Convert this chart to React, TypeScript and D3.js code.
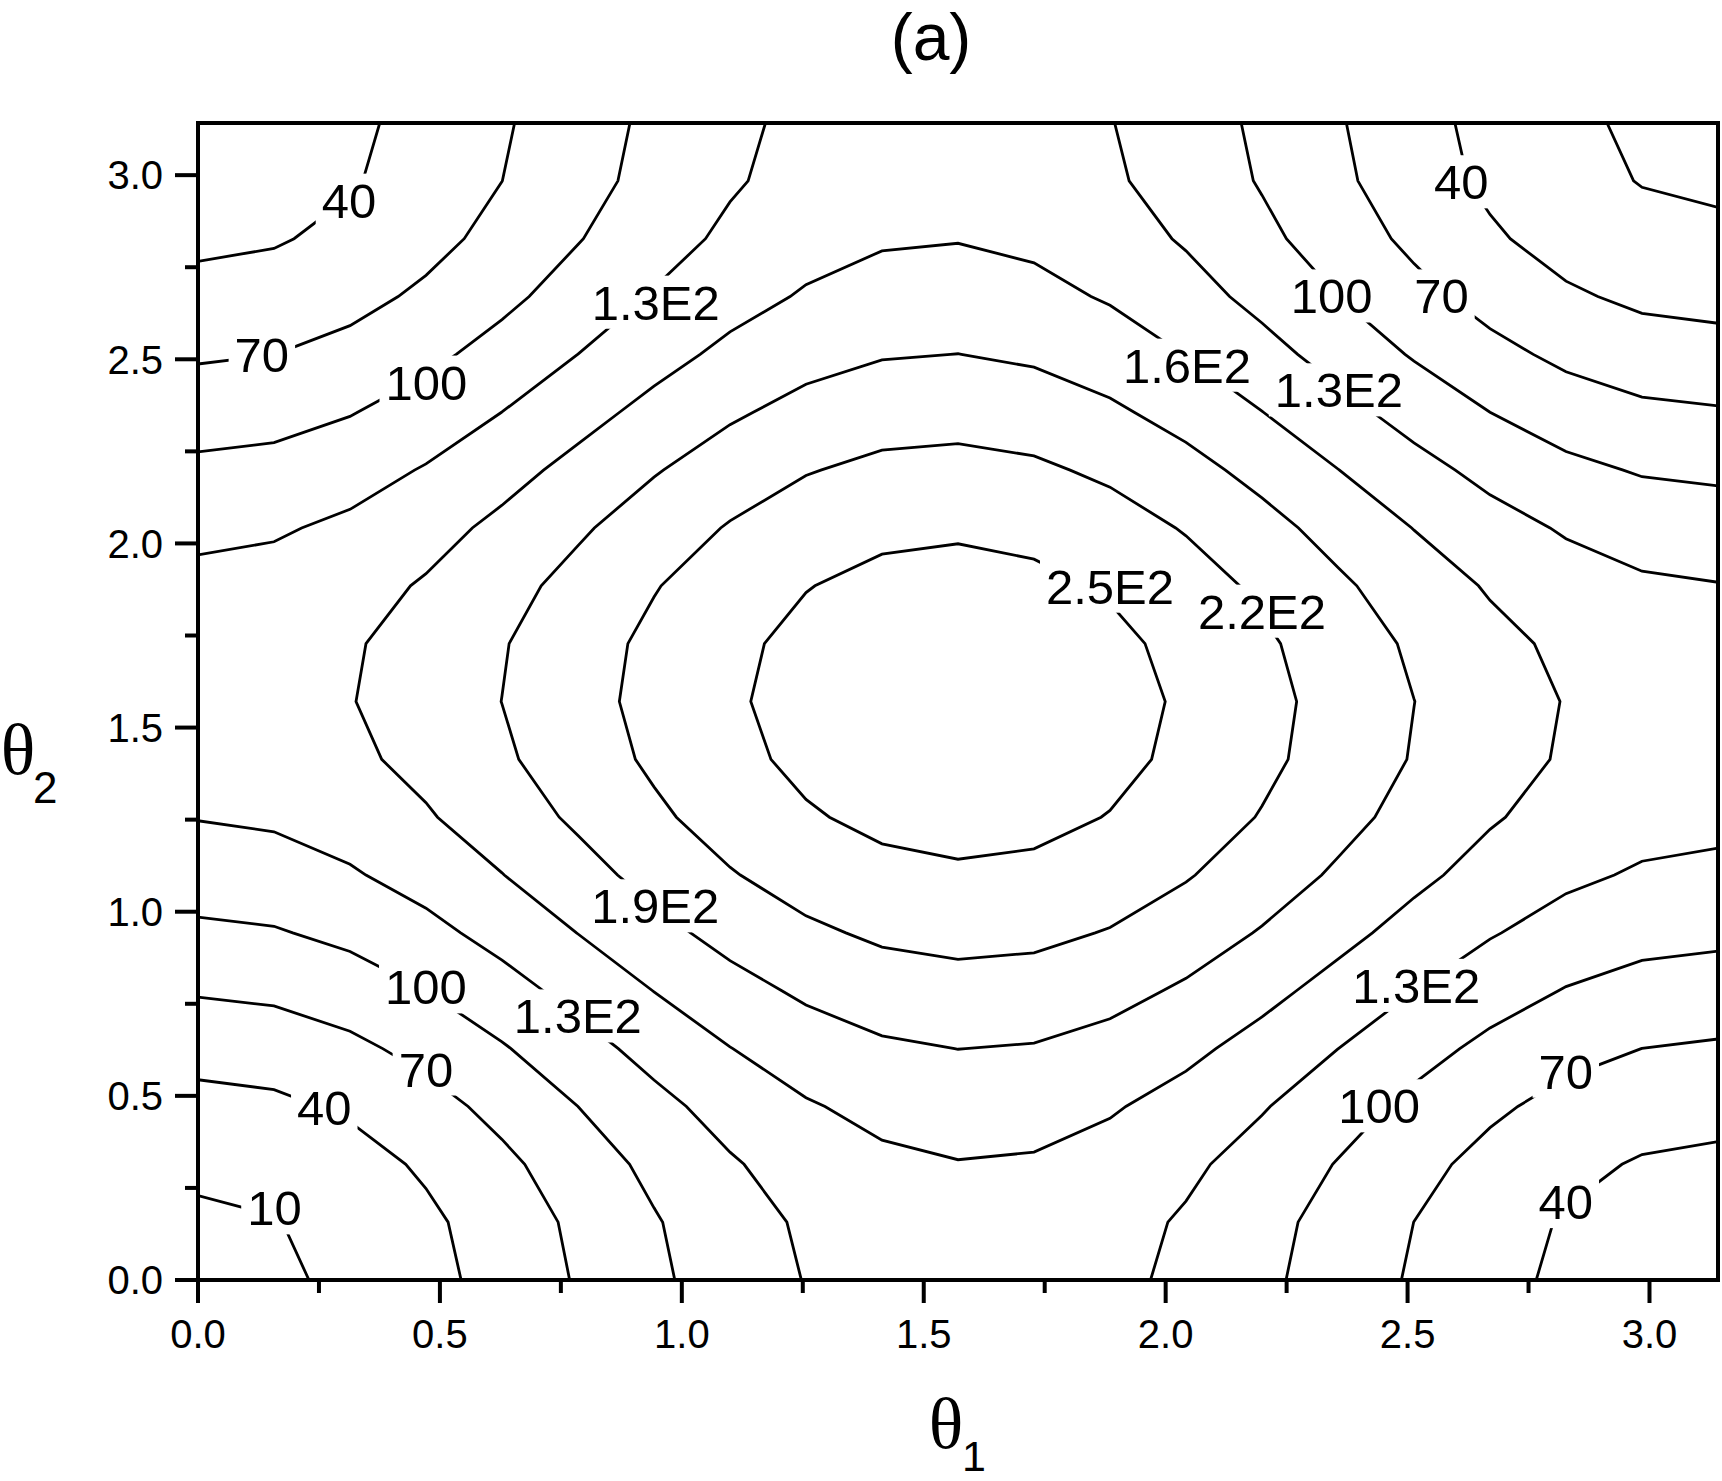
import React from 'react';
import * as d3 from 'd3';

// Grid of the plotted quantity, θ2 rows (0 → π, step π/20), θ1 columns (0 → π, step π/20)
const row00 = [2.0, 5.4, 15.4, 30.9, 50.6, 72.4, 94.5, 114.6, 131.0, 142.1, 147.0, 145.3, 137.2, 123.7, 106.2, 86.6, 66.7, 48.7, 34.4, 25.2, 22.0];
const row01 = [5.4, 8.9, 18.8, 34.3, 53.9, 75.7, 97.7, 117.8, 134.1, 145.2, 150.1, 148.3, 140.2, 126.8, 109.3, 89.7, 69.9, 51.9, 37.6, 28.4, 25.2];
const row02 = [15.4, 18.8, 28.7, 44.1, 63.5, 85.2, 107.0, 127.0, 143.2, 154.2, 158.9, 157.1, 149.1, 135.6, 118.2, 98.6, 78.9, 61.0, 46.7, 37.6, 34.4];
const row03 = [30.9, 34.3, 44.1, 59.3, 78.6, 100.0, 121.6, 141.3, 157.3, 168.1, 172.8, 170.9, 162.8, 149.4, 132.1, 112.6, 93.0, 75.2, 61.0, 51.9, 48.7];
const row04 = [50.6, 53.9, 63.5, 78.6, 97.5, 118.7, 140.0, 159.4, 175.1, 185.7, 190.2, 188.2, 180.1, 166.8, 149.5, 130.1, 110.6, 93.0, 78.9, 69.9, 66.7];
const row05 = [72.4, 75.7, 85.2, 100.0, 118.7, 139.5, 160.4, 179.5, 194.9, 205.2, 209.5, 207.4, 199.3, 185.9, 168.7, 149.5, 130.1, 112.6, 98.6, 89.7, 86.6];
const row06 = [94.5, 97.7, 107.0, 121.6, 140.0, 160.4, 181.0, 199.7, 214.7, 224.8, 228.8, 226.6, 218.4, 205.0, 187.9, 168.7, 149.5, 132.1, 118.2, 109.3, 106.2];
const row07 = [114.6, 117.8, 127.0, 141.3, 159.4, 179.5, 199.7, 218.0, 232.7, 242.4, 246.2, 243.8, 235.5, 222.1, 205.0, 185.9, 166.8, 149.4, 135.6, 126.8, 123.7];
const row08 = [131.0, 134.1, 143.2, 157.3, 175.1, 194.9, 214.7, 232.7, 247.1, 256.5, 260.1, 257.5, 249.0, 235.5, 218.4, 199.3, 180.1, 162.8, 149.1, 140.2, 137.2];
const row09 = [142.1, 145.2, 154.2, 168.1, 185.7, 205.2, 224.8, 242.4, 256.5, 265.6, 268.9, 266.1, 257.5, 243.8, 226.6, 207.4, 188.2, 170.9, 157.1, 148.3, 145.3];
const row10 = [147.0, 150.1, 158.9, 172.8, 190.2, 209.5, 228.8, 246.2, 260.1, 268.9, 272.0, 268.9, 260.1, 246.2, 228.8, 209.5, 190.2, 172.8, 158.9, 150.1, 147.0];
const row11 = [145.3, 148.3, 157.1, 170.9, 188.2, 207.4, 226.6, 243.8, 257.5, 266.1, 268.9, 265.6, 256.5, 242.4, 224.8, 205.2, 185.7, 168.1, 154.2, 145.2, 142.1];
const row12 = [137.2, 140.2, 149.1, 162.8, 180.1, 199.3, 218.4, 235.5, 249.0, 257.5, 260.1, 256.5, 247.1, 232.7, 214.7, 194.9, 175.1, 157.3, 143.2, 134.1, 131.0];
const row13 = [123.7, 126.8, 135.6, 149.4, 166.8, 185.9, 205.0, 222.1, 235.5, 243.8, 246.2, 242.4, 232.7, 218.0, 199.7, 179.5, 159.4, 141.3, 127.0, 117.8, 114.6];
const row14 = [106.2, 109.3, 118.2, 132.1, 149.5, 168.7, 187.9, 205.0, 218.4, 226.6, 228.8, 224.8, 214.7, 199.7, 181.0, 160.4, 140.0, 121.6, 107.0, 97.7, 94.5];
const row15 = [86.6, 89.7, 98.6, 112.6, 130.1, 149.5, 168.7, 185.9, 199.3, 207.4, 209.5, 205.2, 194.9, 179.5, 160.4, 139.5, 118.7, 100.0, 85.2, 75.7, 72.4];
const row16 = [66.7, 69.9, 78.9, 93.0, 110.6, 130.1, 149.5, 166.8, 180.1, 188.2, 190.2, 185.7, 175.1, 159.4, 140.0, 118.7, 97.5, 78.6, 63.5, 53.9, 50.6];
const row17 = [48.7, 51.9, 61.0, 75.2, 93.0, 112.6, 132.1, 149.4, 162.8, 170.9, 172.8, 168.1, 157.3, 141.3, 121.6, 100.0, 78.6, 59.3, 44.1, 34.3, 30.9];
const row18 = [34.4, 37.6, 46.7, 61.0, 78.9, 98.6, 118.2, 135.6, 149.1, 157.1, 158.9, 154.2, 143.2, 127.0, 107.0, 85.2, 63.5, 44.1, 28.7, 18.8, 15.4];
const row19 = [25.2, 28.4, 37.6, 51.9, 69.9, 89.7, 109.3, 126.8, 140.2, 148.3, 150.1, 145.2, 134.1, 117.8, 97.7, 75.7, 53.9, 34.3, 18.8, 8.9, 5.4];
const row20 = [22.0, 25.2, 34.4, 48.7, 66.7, 86.6, 106.2, 123.7, 137.2, 145.3, 147.0, 142.1, 131.0, 114.6, 94.5, 72.4, 50.6, 30.9, 15.4, 5.4, 2.0];

const gridRows = [row00, row01, row02, row03, row04, row05, row06, row07, row08, row09, row10,
  row11, row12, row13, row14, row15, row16, row17, row18, row19, row20];

// Contour levels and their printed labels
const levels = [10, 40, 70, 100, 130, 160, 190, 220, 250];
const levelText = ['10', '40', '70', '100', '1.3E2', '1.6E2', '1.9E2', '2.2E2', '2.5E2'];

// Contour label placements (level, θ1, θ2)
const labelLevel = [40, 70, 100, 130, 160, 100, 70, 40, 130, 250, 220, 190, 100, 130, 70, 40, 10, 130, 100, 70, 40];
const labelTheta1 = [0.312, 0.132, 0.472, 0.946, 2.044, 2.343, 2.570, 2.611, 2.358, 1.885, 2.199, 0.945, 0.471, 0.785, 0.471, 0.261, 0.158, 2.518, 2.441, 2.827, 2.827];
const labelTheta2 = [2.932, 2.512, 2.438, 2.655, 2.484, 2.672, 2.672, 2.982, 2.417, 1.884, 1.816, 1.016, 0.796, 0.717, 0.573, 0.468, 0.196, 0.800, 0.473, 0.567, 0.213];

// Axis ticks
const majorTicks = [0, 0.5, 1.0, 1.5, 2.0, 2.5, 3.0];
const minorTicks = [0.25, 0.75, 1.25, 1.75, 2.25, 2.75];

const W = 1722;
const H = 1481;
const SANS = '"Liberation Sans", Arial, Helvetica, sans-serif';
const SERIF = '"Liberation Serif", "Times New Roman", serif';

function textWidth(s: string, fs: number) {
  let w = 0;
  for (const ch of s) {
    if (ch === '.') w += 0.278;
    else if (ch === 'E') w += 0.667;
    else w += 0.556;
  }
  return w * fs;
}

export default function App() {
  const n = gridRows.length;
  const m = gridRows[0].length;
  const values: number[] = [];
  gridRows.forEach((r) => r.forEach((v) => values.push(v)));

  const x = d3.scaleLinear().domain([0, Math.PI]).range([198, 1718]);
  const y = d3.scaleLinear().domain([0, Math.PI]).range([1280, 123]);
  const step = Math.PI / (m - 1);

  const proj = d3.geoTransform({
    point(px: number, py: number) {
      (this as any).stream.point(x((px - 0.5) * step), y((py - 0.5) * step));
    },
  });
  const path = d3.geoPath(proj as any);
  const cs = d3.contours().size([m, n]).thresholds(levels)(values);

  const labelFs = 49;
  const tickFs = 40;
  const fmt = d3.format('.1f');

  const x0 = x(0), x1 = x(Math.PI), yTop = y(Math.PI), yBot = y(0);

  return (
    <svg width={W} height={H} style={{ position: 'absolute', left: 0, top: 0, background: '#fff' }}>
      <defs>
        <clipPath id="plotClip">
          <rect x={x0} y={yTop} width={x1 - x0} height={yBot - yTop} />
        </clipPath>
        <mask id="labelMask" maskUnits="userSpaceOnUse" x={0} y={0} width={W} height={H}>
          <rect x={0} y={0} width={W} height={H} fill="white" />
          {labelLevel.map((lv, i) => {
            const t = levelText[levels.indexOf(lv)];
            const w = textWidth(t, labelFs);
            const cx = x(labelTheta1[i]);
            const cy = y(labelTheta2[i]);
            const hh = 0.716 * labelFs;
            return (
              <rect key={i} x={cx - w / 2 - 6} y={cy - hh / 2 - 9} width={w + 12} height={hh + 18} fill="black" />
            );
          })}
        </mask>
      </defs>
      <rect x={0} y={0} width={W} height={H} fill="#fff" />

      {/* Title */}
      <text x={931} y={60} fontFamily={SANS} fontSize={66} textAnchor="middle" fill="#000">(a)</text>

      {/* Contours */}
      <g clipPath="url(#plotClip)">
        <g mask="url(#labelMask)">
          {cs.map((c, i) => (
            <path key={i} d={path(c as any) || ''} fill="none" stroke="#000" strokeWidth={2.8} strokeLinejoin="miter" />
          ))}
        </g>
      </g>

      {/* Contour labels */}
      {labelLevel.map((lv, i) => (
        <text
          key={i}
          x={x(labelTheta1[i])}
          y={y(labelTheta2[i]) + 0.358 * labelFs}
          fontFamily={SANS}
          fontSize={labelFs}
          textAnchor="middle"
          fill="#000"
        >
          {levelText[levels.indexOf(lv)]}
        </text>
      ))}

      {/* Frame */}
      <rect x={x0} y={yTop} width={x1 - x0} height={yBot - yTop} fill="none" stroke="#000" strokeWidth={4} />

      {/* X ticks */}
      {majorTicks.map((t) => (
        <line key={'xM' + t} x1={x(t)} x2={x(t)} y1={yBot} y2={yBot + 23} stroke="#000" strokeWidth={4} />
      ))}
      {minorTicks.map((t) => (
        <line key={'xm' + t} x1={x(t)} x2={x(t)} y1={yBot} y2={yBot + 13} stroke="#000" strokeWidth={4} />
      ))}
      {majorTicks.map((t) => (
        <text key={'xl' + t} x={x(t)} y={1348} fontFamily={SANS} fontSize={tickFs} textAnchor="middle" fill="#000">
          {fmt(t)}
        </text>
      ))}

      {/* Y ticks */}
      {majorTicks.map((t) => (
        <line key={'yM' + t} x1={x0 - 23} x2={x0} y1={y(t)} y2={y(t)} stroke="#000" strokeWidth={4} />
      ))}
      {minorTicks.map((t) => (
        <line key={'ym' + t} x1={x0 - 13} x2={x0} y1={y(t)} y2={y(t)} stroke="#000" strokeWidth={4} />
      ))}
      {majorTicks.map((t) => (
        <text key={'yl' + t} x={163} y={y(t) + 0.358 * tickFs} fontFamily={SANS} fontSize={tickFs} textAnchor="end" fill="#000">
          {fmt(t)}
        </text>
      ))}

      {/* Axis titles */}
      <text x={946} y={1448} fontFamily={SERIF} fontSize={72} textAnchor="middle" fill="#000">θ</text>
      <text x={962} y={1471} fontFamily={SANS} fontSize={43} fill="#000">1</text>

      <text x={18} y={774} fontFamily={SERIF} fontSize={72} textAnchor="middle" fill="#000">θ</text>
      <text x={33} y={803} fontFamily={SANS} fontSize={44} fill="#000">2</text>
    </svg>
  );
}
